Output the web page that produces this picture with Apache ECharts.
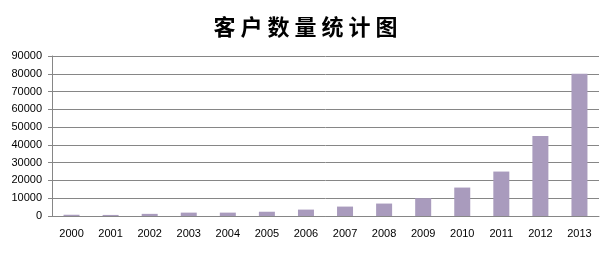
<!DOCTYPE html>
<html><head><meta charset="utf-8">
<script src="https://cdn.jsdelivr.net/npm/echarts@6/dist/echarts.min.js"></script>
<style>html,body{margin:0;padding:0;background:#fff}#c{width:611px;height:253px}</style>
</head><body><div id="c"></div>
<script>
var categories = ['2000','2001','2002','2003','2004','2005','2006','2007','2008','2009','2010','2011','2012','2013'];
var values = [700, 600, 1200, 1900, 1900, 2400, 3600, 5300, 7000, 10000, 16000, 25000, 45000, 80000];
var titleText = '客 户 数 量 统 计 图';
var chart = echarts.init(document.getElementById('c'));
chart.setOption({
  animation: false,
  title: { text: titleText, left: 'center', top: 11,
    textStyle: { fontFamily: 'Noto Sans CJK SC', fontWeight: 'bold', fontSize: 22, color: '#000' } },
  grid: { left: 52, right: 12, top: 56, bottom: 37 },
  xAxis: { type: 'category', data: categories,
    axisLine: { lineStyle: { color: '#868686' } },
    axisTick: { length: 4, lineStyle: { color: '#868686' } },
    axisLabel: { color: '#000', fontFamily: 'Liberation Sans', fontSize: 11, margin: 12 } },
  yAxis: { type: 'value', min: 0, max: 90000, interval: 10000,
    axisLine: { show: true, lineStyle: { color: '#868686' } },
    axisTick: { show: true, length: 4, lineStyle: { color: '#868686' } },
    splitLine: { lineStyle: { color: '#868686' } },
    axisLabel: { color: '#000', fontFamily: 'Liberation Sans', fontSize: 11, margin: 10,
      formatter: function (v) { return String(v); } } },
  series: [{ type: 'bar', data: values, barWidth: 16, itemStyle: { color: '#A99BBD' } }]
});
</script></body></html>
